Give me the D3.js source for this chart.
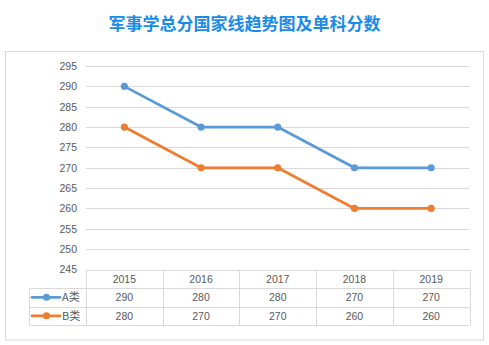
<!DOCTYPE html>
<html>
<head>
<meta charset="utf-8">
<script src="https://cdn.jsdelivr.net/npm/d3@7"></script>
<style>
  html, body { margin: 0; padding: 0; background: #fff; }
  svg { display: block; }
</style>
</head>
<body>
<svg id="chart" width="489" height="345"></svg>
<script>
// Chart data
const title = "军事学总分国家线趋势图及单科分数";
const years = ["2015", "2016", "2017", "2018", "2019"];
const seriesNames = ["A类", "B类"];
const seriesA = [290, 280, 280, 270, 270];
const seriesB = [280, 270, 270, 260, 260];
const yTicks = [245, 250, 255, 260, 265, 270, 275, 280, 285, 290, 295];
const seriesColors = ["#5B9BD5", "#ED7D31"];

const series = [
  { name: seriesNames[0], values: seriesA, color: seriesColors[0] },
  { name: seriesNames[1], values: seriesB, color: seriesColors[1] }
];

const svg = d3.select("#chart");
const font = "'Liberation Sans', Arial, sans-serif";
const gridColor = "#d9d9d9";
const textColor = "#595959";

// Title
svg.append("text")
  .attr("x", 244.5).attr("y", 30)
  .attr("text-anchor", "middle")
  .attr("font-family", "'Noto Sans CJK SC', sans-serif")
  .attr("font-size", 17).attr("font-weight", "bold")
  .attr("fill", "#1a8ce8")
  .text(title);

// Chart frame
svg.append("rect")
  .attr("x", 5.5).attr("y", 51.5)
  .attr("width", 478).attr("height", 288.5)
  .attr("fill", "none").attr("stroke", gridColor).attr("stroke-width", 1);

// Plot geometry
const plotLeft = 86, plotRight = 469.5;
const x = d3.scaleBand().domain(years).range([plotLeft, plotRight]);
const y = d3.scaleLinear().domain([245, 295]).range([269.5, 66]);

// Gridlines
svg.append("g").selectAll("line").data(yTicks).join("line")
  .attr("x1", plotLeft).attr("x2", plotRight)
  .attr("y1", d => Math.round(y(d)) + 0.5).attr("y2", d => Math.round(y(d)) + 0.5)
  .attr("stroke", gridColor).attr("stroke-width", 1);

// Y axis labels
const yAxis = d3.axisLeft(y).tickValues(yTicks).tickSize(0).tickPadding(0);
const yg = svg.append("g").attr("transform", "translate(77,0)").call(yAxis);
yg.select(".domain").remove();
yg.selectAll("text")
  .attr("font-family", font).attr("font-size", 10.5)
  .attr("fill", textColor);

// Lines and markers
const line = d3.line()
  .x((d, i) => x(years[i]) + x.bandwidth() / 2)
  .y(d => y(d));

series.forEach(s => {
  svg.append("path")
    .datum(s.values)
    .attr("d", line)
    .attr("fill", "none")
    .attr("stroke", s.color)
    .attr("stroke-width", 2.75)
    .attr("stroke-linejoin", "round")
    .attr("stroke-linecap", "round");
  svg.append("g").selectAll("circle").data(s.values).join("circle")
    .attr("cx", (d, i) => x(years[i]) + x.bandwidth() / 2)
    .attr("cy", d => y(d))
    .attr("r", 3.6)
    .attr("fill", s.color);
});

// Data table under the plot
const tableTop = 269.5;
const rowH = 18.5;
const legendLeft = 29.5;
const tg = svg.append("g");

// horizontal rules
const hRules = [
  { y: tableTop, x1: plotLeft, x2: plotRight },
  { y: tableTop + rowH, x1: legendLeft, x2: plotRight },
  { y: tableTop + rowH * 2, x1: legendLeft, x2: plotRight },
  { y: tableTop + rowH * 3, x1: legendLeft, x2: plotRight }
];
tg.selectAll("line.h").data(hRules).join("line")
  .attr("class", "h")
  .attr("x1", d => d.x1).attr("x2", d => d.x2)
  .attr("y1", d => Math.round(d.y) + 0.5).attr("y2", d => Math.round(d.y) + 0.5)
  .attr("stroke", gridColor);

// vertical rules
const colEdges = years.map(yr => x(yr)).concat([plotRight]);
tg.selectAll("line.v").data(colEdges).join("line")
  .attr("class", "v")
  .attr("x1", d => Math.round(d) + 0.5).attr("x2", d => Math.round(d) + 0.5)
  .attr("y1", tableTop).attr("y2", Math.round(tableTop + rowH * 3) + 0.5)
  .attr("stroke", gridColor);
tg.append("line")
  .attr("x1", legendLeft).attr("x2", legendLeft)
  .attr("y1", Math.round(tableTop + rowH) + 0.5).attr("y2", Math.round(tableTop + rowH * 3) + 0.5)
  .attr("stroke", gridColor);

// year header
tg.selectAll("text.yr").data(years).join("text")
  .attr("class", "yr")
  .attr("x", d => x(d) + x.bandwidth() / 2)
  .attr("y", tableTop + rowH / 2 + 4)
  .attr("text-anchor", "middle")
  .attr("font-family", font).attr("font-size", 10.5)
  .attr("fill", textColor)
  .text(d => d);

// series rows
series.forEach((s, si) => {
  const rowMid = tableTop + rowH * (si + 1) + rowH / 2;
  tg.selectAll("text.v" + si).data(s.values).join("text")
    .attr("class", "v" + si)
    .attr("x", (d, i) => x(years[i]) + x.bandwidth() / 2)
    .attr("y", rowMid + 4)
    .attr("text-anchor", "middle")
    .attr("font-family", font).attr("font-size", 10.5)
    .attr("fill", textColor)
    .text(d => d);
  // legend key
  tg.append("line")
    .attr("x1", 32).attr("x2", 60)
    .attr("y1", rowMid).attr("y2", rowMid)
    .attr("stroke", s.color).attr("stroke-width", 2.75)
    .attr("stroke-linecap", "round");
  tg.append("circle")
    .attr("cx", 46.5).attr("cy", rowMid).attr("r", 3.6)
    .attr("fill", s.color);
  tg.append("text")
    .attr("x", 62).attr("y", rowMid + 4)
    .attr("font-family", "'Noto Sans CJK SC', " + font).attr("font-size", 11)
    .attr("fill", textColor)
    .text(s.name);
});
</script>
</body>
</html>
